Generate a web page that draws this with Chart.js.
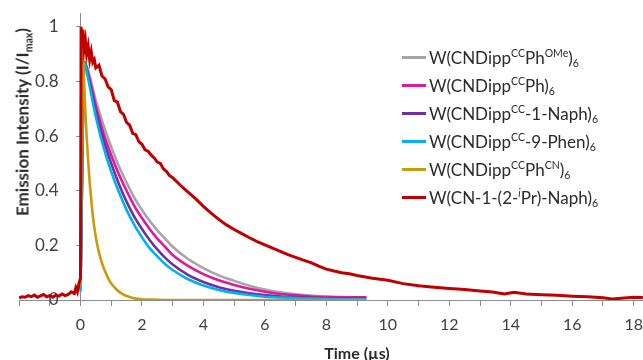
<!DOCTYPE html>
<html>
<head>
<meta charset="utf-8">
<script src="https://cdn.jsdelivr.net/npm/chart.js@4.4.1/dist/chart.umd.min.js"></script>
<style>
  html, body { margin: 0; padding: 0; background: #fff; }
  #wrap { position: relative; width: 643px; height: 360px; font-family: Lato, "Open Sans", sans-serif; color: #2b2b2b; }
  #chart { position: absolute; left: 0; top: 0; }
  #legend { position: absolute; left: 402px; top: 43px; }
  .row { height: 28px; display: flex; align-items: center; font-size: 17px; white-space: nowrap; }
  .swatch { width: 24px; height: 3px; margin-right: 3px; }
  sup, sub { font-size: 0.62em; position: relative; vertical-align: baseline; line-height: 0; }
  sup { top: -0.6em; }
  sub { top: 0.35em; }
  #ytitle { position: absolute; left: 22px; top: 122px; transform: translate(-50%, -50%) rotate(-90deg);
            font-weight: bold; font-size: 17px; white-space: nowrap; }
  #xtitle { position: absolute; left: 357px; top: 352px; transform: translate(-50%, -50%);
            font-weight: bold; font-size: 16px; white-space: nowrap; }
</style>
</head>
<body>
<div id="wrap">
  <canvas id="chart" width="643" height="360"></canvas>
  <div id="legend"></div>
  <div id="ytitle">Emission Intensity (I/I<sub>max</sub>)</div>
  <div id="xtitle">Time (µs)</div>
</div>
<script>
// legend labels (with sup/sub markup)
const seriesLabels = [
  "W(CNDipp<sup>CC</sup>Ph<sup>OMe</sup>)<sub>6</sub>",
  "W(CNDipp<sup>CC</sup>Ph)<sub>6</sub>",
  "W(CNDipp<sup>CC</sup>-1-Naph)<sub>6</sub>",
  "W(CNDipp<sup>CC</sup>-9-Phen)<sub>6</sub>",
  "W(CNDipp<sup>CC</sup>Ph<sup>CN</sup>)<sub>6</sub>",
  "W(CN-1-(2-<sup><i>i</i></sup>Pr)-Naph)<sub>6</sub>"
];
const seriesColors = ["#a6a6a6", "#e0189a", "#7030a0", "#00b0f0", "#c99a0c", "#c00000"];

// the four CC-linked complexes share a time base (µs)
const ccTime = [0, 0.13, 0.25, 0.5, 0.75, 1, 1.25, 1.5, 1.75, 2, 2.25, 2.5, 2.75, 3,
  3.5, 4, 4.5, 5, 5.5, 6, 6.5, 7, 7.5, 8, 8.5, 9, 9.3];
const phOMe = [0.04, 0.87, 0.84, 0.73, 0.64, 0.56, 0.49, 0.43, 0.375, 0.33, 0.29, 0.255, 0.225, 0.195,
  0.15, 0.117, 0.09, 0.07, 0.052, 0.038, 0.028, 0.021, 0.016, 0.013, 0.011, 0.01, 0.01];
const ph = [0.05, 0.87, 0.83, 0.71, 0.61, 0.53, 0.46, 0.4, 0.345, 0.3, 0.26, 0.225, 0.195, 0.165,
  0.125, 0.095, 0.072, 0.055, 0.041, 0.03, 0.022, 0.017, 0.013, 0.011, 0.01, 0.01, 0.01];
const naph1 = [0.04, 0.87, 0.82, 0.69, 0.585, 0.5, 0.425, 0.36, 0.305, 0.26, 0.22, 0.185, 0.155, 0.13,
  0.092, 0.066, 0.047, 0.034, 0.025, 0.018, 0.013, 0.01, 0.008, 0.006, 0.005, 0.005, 0.005];
const phen9 = [0.03, 0.87, 0.81, 0.67, 0.56, 0.47, 0.395, 0.33, 0.275, 0.23, 0.19, 0.16, 0.132, 0.11,
  0.076, 0.053, 0.037, 0.026, 0.018, 0.012, 0.009, 0.007, 0.005, 0.004, 0.003, 0.003, 0.003];

const phCNTime = [0, 0.07, 0.1, 0.15, 0.2, 0.25, 0.3, 0.35, 0.4, 0.5, 0.6, 0.7, 0.8, 0.9, 1.0,
  1.2, 1.4, 1.6, 1.8, 2.0, 2.5, 3, 4, 5, 6, 7, 8, 9, 9.3];
const phCN = [0.05, 0.91, 0.85, 0.71, 0.6, 0.51, 0.43, 0.37, 0.31, 0.23, 0.175, 0.135, 0.105, 0.08, 0.06,
  0.036, 0.02, 0.011, 0.005, 0.003, 0.001, 0, 0, 0, 0, 0, 0, 0, 0];

const naphTime = [-2, -1.9, -1.8, -1.7, -1.6, -1.5, -1.4, -1.3, -1.2, -1.1, -1, -0.9, -0.8, -0.7, -0.6,
  -0.5, -0.4, -0.3, -0.2, -0.15, -0.1, -0.05, 0, 0.02, 0.05, 0.08, 0.12, 0.16, 0.2, 0.25, 0.3, 0.35,
  0.4, 0.45, 0.5, 0.6, 0.7, 0.8, 0.9, 1, 1.1, 1.2, 1.3, 1.4, 1.5, 1.6, 1.7, 1.8, 1.9, 2, 2.1, 2.2,
  2.3, 2.4, 2.5, 2.6, 2.7, 2.8, 2.9, 3, 3.25, 3.5, 3.75, 4, 4.25, 4.5, 4.75, 5, 5.25, 5.5, 5.75, 6,
  6.25, 6.5, 6.75, 7, 7.25, 7.5, 7.75, 8, 8.25, 8.5, 8.75, 9, 9.5, 10, 10.5, 11, 11.5, 12, 12.5, 13,
  13.4, 13.8, 14.1, 14.5, 15, 15.5, 16, 16.5, 17, 17.3, 17.7, 18, 18.3];
const naphIPr = [0.008, 0.012, 0.01, 0.016, 0.012, 0.018, 0.01, 0.015, 0.02, 0.012, 0.016, 0.01, 0.018,
  0.014, 0.022, 0.016, 0.02, 0.03, 0.024, 0.045, 0.03, 0.06, 0.08, 1.0, 0.96, 0.99, 0.92, 0.95, 0.9,
  0.93, 0.88, 0.91, 0.87, 0.88, 0.85, 0.86, 0.82, 0.81, 0.78, 0.77, 0.73, 0.725, 0.69, 0.68, 0.65,
  0.64, 0.61, 0.605, 0.58, 0.57, 0.55, 0.545, 0.53, 0.52, 0.505, 0.5, 0.48, 0.47, 0.455, 0.448, 0.42,
  0.395, 0.37, 0.343, 0.318, 0.295, 0.275, 0.258, 0.243, 0.228, 0.214, 0.202, 0.19, 0.178, 0.166,
  0.156, 0.146, 0.137, 0.124, 0.113, 0.106, 0.1, 0.096, 0.09, 0.08, 0.072, 0.06, 0.052, 0.047, 0.042,
  0.038, 0.033, 0.029, 0.022, 0.028, 0.022, 0.019, 0.017, 0.014, 0.012, 0.008, 0.004, 0.007, 0.01, 0.009];

const xTicks = [-2, -1, 0, 1, 2, 3, 4, 5, 6, 7, 8, 9, 10, 11, 12, 13, 14, 15, 16, 17, 18];
const yTicks = [0, 0.2, 0.4, 0.6, 0.8, 1];

function pts(xs, ys) {
  return xs.map((x, i) => ({ x, y: ys[i] }));
}
const plain = (s) => s.replace(/<[^>]+>/g, "");

const series = [
  [ccTime, phOMe, true],
  [ccTime, ph, true],
  [ccTime, naph1, true],
  [ccTime, phen9, true],
  [phCNTime, phCN, true],
  [naphTime, naphIPr, false]
];

const datasets = series.map(([xs, ys, smooth], i) => ({
  label: plain(seriesLabels[i]),
  data: pts(xs, ys),
  borderColor: seriesColors[i],
  borderWidth: i === 5 ? 3 : 2.6,
  pointRadius: 0,
  fill: false,
  cubicInterpolationMode: smooth ? "monotone" : "default",
  tension: 0,
  order: 6 - i
}));

// html legend
document.getElementById("legend").innerHTML = seriesLabels.map((lab, i) =>
  `<div class="row"><span class="swatch" style="background:${seriesColors[i]}"></span><span>${lab}</span></div>`
).join("");

const axisColor = "#8c8c8c";

new Chart(document.getElementById("chart"), {
  type: "line",
  data: { datasets },
  options: {
    responsive: false,
    animation: false,
    devicePixelRatio: 1,
    layout: { padding: { left: 19, right: 0, top: 10, bottom: 60 } },
    plugins: { legend: { display: false }, tooltip: { enabled: false } },
    scales: {
      x: {
        type: "linear",
        position: { y: 0 },
        min: -2,
        max: 18.3,
        afterBuildTicks: (axis) => {
          axis.ticks = xTicks.map((v) => ({ value: v }));
        },
        ticks: {
          autoSkip: false,
          maxRotation: 0,
          color: "#404040",
          // tall line height pushes the labels down without adding side padding
          font: { family: "Lato", size: 16, lineHeight: "40px" },
          padding: 0,
          callback: (v) => (v >= 0 && v % 2 === 0 ? String(v) : "")
        },
        grid: { drawOnChartArea: false, drawTicks: true, tickLength: 5, color: axisColor },
        border: { display: true, color: axisColor, width: 1 }
      },
      y: {
        type: "linear",
        position: { x: 0 },
        z: 1,
        min: 0,
        max: 1.05,
        afterBuildTicks: (axis) => {
          axis.ticks = yTicks.map((v) => ({ value: v }));
        },
        ticks: {
          color: "#404040",
          font: { family: "Lato", size: 17 },
          // labels sit right-aligned on the crossing axis, so pad with spaces
          callback: (v) => String(Number(v.toFixed(1))) + "     "
        },
        grid: { drawOnChartArea: false, drawTicks: true, tickLength: 4, color: axisColor },
        border: { display: true, color: axisColor, width: 1 }
      }
    }
  }
});
</script>
</body>
</html>
